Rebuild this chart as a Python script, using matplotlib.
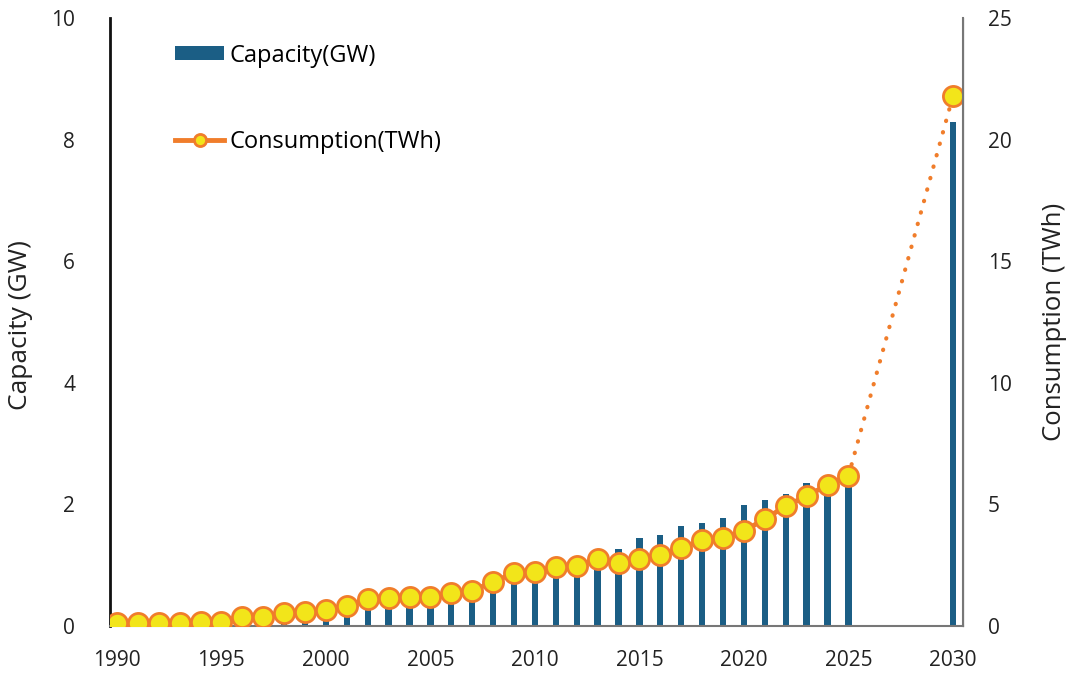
import numpy as np
import matplotlib.pyplot as plt

plt.rcParams['font.family'] = ['Open Sans', 'DejaVu Sans']

years = list(range(1990, 2026)) + [2030]

capacity = [0.01, 0.01, 0.01, 0.01, 0.01, 0.02, 0.05, 0.08, 0.12, 0.15,
            0.20, 0.27, 0.38, 0.40, 0.42, 0.44, 0.48, 0.52, 0.65, 0.78,
            0.80, 0.86, 0.90, 1.00, 1.27, 1.45, 1.50, 1.64, 1.70, 1.78,
            1.99, 2.08, 2.18, 2.35, 2.30, 2.45, 8.30]

consumption = [0.14, 0.14, 0.14, 0.14, 0.16, 0.18, 0.38, 0.38, 0.52, 0.56,
               0.66, 0.82, 1.10, 1.14, 1.21, 1.21, 1.34, 1.45, 1.82, 2.17,
               2.21, 2.41, 2.48, 2.74, 2.58, 2.74, 2.92, 3.19, 3.54, 3.60,
               3.91, 4.40, 4.93, 5.35, 5.80, 6.17, 21.8]

bar_color = '#1B5E85'
line_color = '#F07D2B'
marker_face = '#F2E51A'
text_color = '#222222'

fig = plt.figure(figsize=(10.67, 6.73), dpi=100)
ax = fig.add_axes([0.103, 0.0698, 0.7995, 0.9032])
ax2 = ax.twinx()

ax.bar(years, capacity, width=0.3, color=bar_color, label='Capacity(GW)')

# measured part, solid line with markers
ax2.plot(years[:-1], consumption[:-1], color=line_color, lw=3.5,
         marker='o', ms=14.5, mfc=marker_face, mec=line_color, mew=2,
         label='Consumption(TWh)')
# projection to 2030, dotted
ax2.plot(years[-2:], consumption[-2:], color=line_color, lw=3,
         ls=(0, (0.1, 2.75)), dash_capstyle='round', zorder=1)
ax2.plot(years[-1:], consumption[-1:], ls='none', marker='o', ms=14.5,
         mfc=marker_face, mec=line_color, mew=2)

ax.set_xlim(1989.665, 2030.48)
ax.set_ylim(0, 10)
ax2.set_ylim(0, 25)
ax.set_xticks(range(1990, 2031, 5))
ax.set_yticks(range(0, 11, 2))
ax2.set_yticks(range(0, 26, 5))

for a in (ax, ax2):
    a.tick_params(length=0, labelsize=15, colors=text_color)
    a.spines['top'].set_visible(False)
ax.tick_params(axis='y', pad=25)
ax2.tick_params(axis='y', pad=18)
ax.tick_params(axis='x', pad=17)

ax.spines['left'].set_linewidth(2)
ax.spines['left'].set_color('#111111')
ax.spines['bottom'].set_color('#777777')
ax.spines['bottom'].set_linewidth(1.5)
ax2.spines['right'].set_color('#777777')
ax2.spines['right'].set_linewidth(1.5)
ax2.spines['left'].set_visible(False)
ax2.spines['bottom'].set_visible(False)

ax.set_ylabel('Capacity (GW)', fontsize=19, color=text_color)
ax.yaxis.set_label_coords(-0.090, 0.495)
ax2.set_ylabel('Consumption (TWh)', fontsize=18.5, color=text_color)
ax2.yaxis.set_label_coords(1.093, 0.5)

h1, l1 = ax.get_legend_handles_labels()
h2, l2 = ax2.get_legend_handles_labels()
ax2.legend(h1 + h2, l1 + l2, loc='upper left', bbox_to_anchor=(0.0762, 0.958),
           frameon=False, fontsize=17, handlelength=2.1, handletextpad=0.2,
           handleheight=0.55, labelspacing=2.63, borderpad=0, borderaxespad=0,
           markerscale=0.6)

fig.savefig('out.png', dpi=100)
